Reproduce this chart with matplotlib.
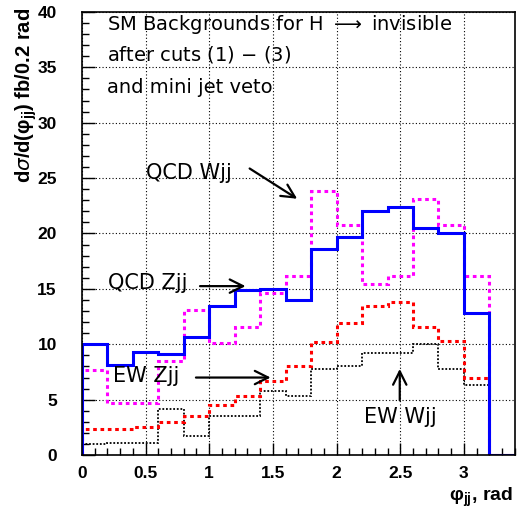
import numpy as np
import matplotlib
matplotlib.use('Agg')
import matplotlib.pyplot as plt
from matplotlib.ticker import MultipleLocator

edges = np.round(np.arange(0, 3.41, 0.2), 2)

qcd_zjj = [10.0, 8.1, 9.3, 9.1, 10.7, 13.5, 14.9, 15.0, 14.0, 18.6, 19.7,
           22.0, 22.4, 20.5, 20.0, 12.8, 0.0]
qcd_wjj = [7.7, 4.7, 4.7, 8.5, 13.1, 10.1, 11.6, 14.6, 16.2, 23.8, 20.8,
           15.4, 16.2, 23.1, 20.8, 16.2, 0.0]
ew_zjj = [2.4, 2.4, 2.5, 3.0, 3.5, 4.5, 5.3, 6.7, 8.0, 10.2, 11.9,
          13.5, 13.8, 11.6, 10.3, 7.0, 0.0]
ew_wjj = [1.0, 1.1, 1.1, 4.2, 1.75, 3.5, 3.5, 5.8, 5.3, 7.8, 8.0,
          9.2, 9.2, 10.0, 7.8, 6.3, 0.0]

title_lines = ['SM Backgrounds for H $\\longrightarrow$ invisible',
               'after cuts (1) $-$ (3)',
               'and mini jet veto']

fig = plt.figure(figsize=(5.18, 5.16), dpi=100)
ax = fig.add_axes([0.158, 0.118, 0.836, 0.859])

ax.stairs(ew_wjj, edges, baseline=0, color='black', lw=1.3, ls=(0, (1, 1)))
ax.stairs(ew_zjj, edges, baseline=0, color='red', lw=2.2, ls=(0, (1.2, 1.2)))
ax.stairs(qcd_wjj, edges, baseline=0, color='magenta', lw=2.2, ls=(0, (1.2, 1.2)))
ax.stairs(qcd_zjj, edges, baseline=0, color='blue', lw=2.2)

ax.set_xlim(0, 3.4)
ax.set_ylim(0, 40)
ax.xaxis.set_major_locator(MultipleLocator(0.5))
ax.xaxis.set_minor_locator(MultipleLocator(0.1))
ax.yaxis.set_major_locator(MultipleLocator(5))
ax.yaxis.set_minor_locator(MultipleLocator(1))
ax.set_xticks([0, 0.5, 1, 1.5, 2, 2.5, 3])
ax.set_xticklabels(['0', '0.5', '1', '1.5', '2', '2.5', '3'])
ax.grid(True, which='major', color='black', ls=(0, (1, 2)), lw=0.8)
ax.set_axisbelow(True)
ax.tick_params(which='both', direction='in', top=False, right=False)
ax.tick_params(which='major', length=9, width=1)
ax.tick_params(which='minor', length=5, width=1)
ax.tick_params(axis='x', pad=8)
ax.tick_params(axis='y', pad=18)
for lab in ax.get_xticklabels() + ax.get_yticklabels():
    lab.set_fontfamily('Liberation Sans')
    lab.set_fontweight('bold')
    lab.set_fontsize(12.5)
for s in ax.spines.values():
    s.set_linewidth(1.2)

fig.text(0.05, 0.985, 'd$\\sigma$/d(\u03c6$_{\\mathregular{jj}}$) fb/0.2 rad',
         rotation=90, ha='center', va='top', fontsize=14.5, fontweight='bold',
         family='Liberation Sans')
fig.text(0.99, 0.03, '\u03c6$_{\\mathregular{jj}}$, rad', ha='right',
         va='baseline', fontsize=14, fontweight='bold', family='Liberation Sans')

tfont = dict(fontsize=14, family='DejaVu Sans', color='black')
for y, line in zip([38.36, 35.65, 32.67], title_lines):
    ax.text(0.197, y, line, va='baseline', **tfont)

lfont = dict(fontsize=15, family='DejaVu Sans', color='black')
ax.text(0.504, 24.9, 'QCD Wjj', va='baseline', **lfont)
ax.text(0.205, 14.98, 'QCD Zjj', va='baseline', **lfont)
ax.text(0.244, 6.59, 'EW Zjj', va='baseline', **lfont)
ax.text(2.213, 2.89, 'EW Wjj', va='baseline', **lfont)

arrow = dict(arrowstyle='->', color='black', lw=1.6, mutation_scale=24)
ax.annotate('', xy=(1.709, 23.0), xytext=(1.299, 26.0), arrowprops=arrow)
ax.annotate('', xy=(1.307, 15.25), xytext=(0.906, 15.25), arrowprops=arrow)
ax.annotate('', xy=(1.504, 7.0), xytext=(0.874, 7.0), arrowprops=arrow)
ax.annotate('', xy=(2.496, 8.03), xytext=(2.496, 4.69), arrowprops=arrow)

fig.savefig('out.png', dpi=100)
